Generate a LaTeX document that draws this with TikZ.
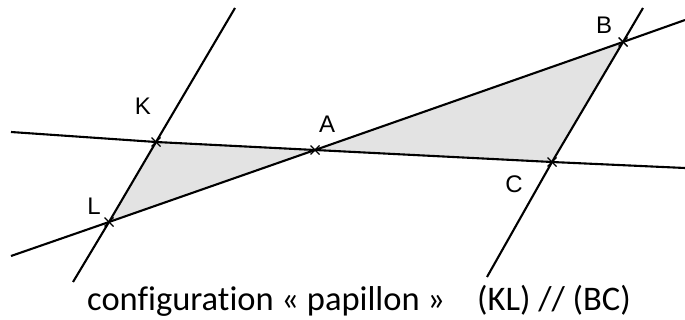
\documentclass[tikz,border=0pt]{standalone}
\usepackage{fontspec}
\setmainfont{Carlito}[Ligatures=NoCommon]
\newfontfamily\labfont{Liberation Sans}
\begin{document}
\begin{tikzpicture}[x=1pt,y=-1pt,
  ln/.style={line width=2.1pt,black},
  lab/.style={font=\labfont\fontsize{24}{24}\selectfont,inner sep=0pt},
  xmark/.style={line width=1.4pt}]
\useasboundingbox (0,0) rectangle (685,320);
\coordinate (K) at (156,142);
\coordinate (A) at (315,150);
\coordinate (B) at (623,42);
\coordinate (C) at (552,162);
\coordinate (L) at (109,222);
% free ends
\coordinate (kacW) at (11,132);
\coordinate (kacE) at (685,168);
\coordinate (labW) at (11,256);
\coordinate (labE) at (685,20);
\coordinate (klN) at (235,8);
\coordinate (klS) at (73,282);
\coordinate (bcN) at (643,8);
\coordinate (bcS) at (487,277);
\fill[black!11] (K) -- (A) -- (L) -- cycle;
\fill[black!11] (A) -- (B) -- (C) -- cycle;
\draw[ln] (kacW) -- (K) -- (A) -- (C) -- (kacE);
\draw[ln] (labW) -- (L) -- (A) -- (B) -- (labE);
\draw[ln] (klN) -- (K) -- (L) -- (klS);
\draw[ln] (bcN) -- (B) -- (C) -- (bcS);
\foreach \p in {K,A,B,C,L}{
  \draw[xmark] ([shift={(-4.5,-4.5)}]\p) -- ([shift={(4.5,4.5)}]\p);
  \draw[xmark] ([shift={(-4.5,4.5)}]\p) -- ([shift={(4.5,-4.5)}]\p);
}
\node[lab] (lK) at (143,106) {K};
\node[lab] (lA) at (327,124) {A};
\node[lab] (lB) at (604,25) {B};
\node[lab] (lC) at (514,184) {C};
\node[lab] (lL) at (94,206) {L};
\node[inner sep=0pt,anchor=base west,font=\fontsize{34.5}{34.5}\selectfont] (cap) at (87,310)
  {configuration « papillon »\hspace{32pt}(KL) // (BC)};
\end{tikzpicture}
\end{document}
